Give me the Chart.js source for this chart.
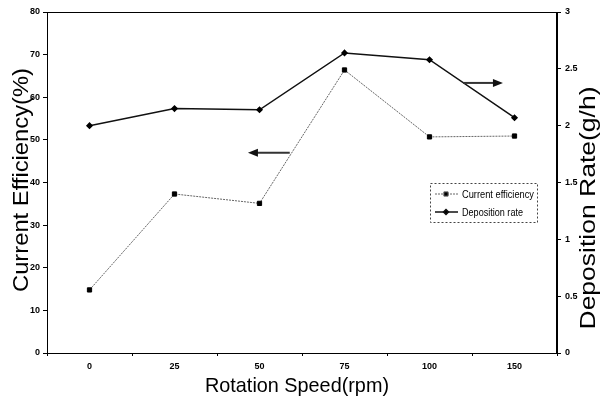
<!DOCTYPE html>
<html>
<head>
<meta charset="utf-8">
<script src="https://cdn.jsdelivr.net/npm/chart.js@4"></script>
<style>
  body { margin: 0; background: #fff; }
  canvas { display: block; }
</style>
</head>
<body>
<canvas id="myChart" width="601" height="401"></canvas>
<script>
const speeds = ['0', '25', '50', '75', '100', '150'];
const efficiency = [14.8, 37.3, 35.1, 66.4, 50.7, 50.9];
const depositionRate = [2.0, 2.15, 2.14, 2.64, 2.58, 2.07];
const efficiencyTicks = [0, 10, 20, 30, 40, 50, 60, 70, 80];
const rateTicks = [0, 0.5, 1, 1.5, 2, 2.5, 3];

const FONT = '"Liberation Sans", Arial, sans-serif';

// draw text scaled so it spans a given length
function fitText(ctx, text, x, y, size, len, rot, align) {
    ctx.save();
    ctx.translate(x, y);
    ctx.rotate(rot);
    ctx.font = size + 'px ' + FONT;
    const w = ctx.measureText(text).width;
    ctx.scale(len / w, 1);
    ctx.textAlign = align || 'center';
    ctx.textBaseline = 'middle';
    ctx.fillStyle = '#000';
    ctx.fillText(text, 0, 0);
    ctx.restore();
}

function arrow(ctx, x1, x2, y) {
    const dir = x2 > x1 ? 1 : -1;
    ctx.save();
    ctx.strokeStyle = '#333';
    ctx.fillStyle = '#111';
    ctx.lineWidth = 2;
    ctx.beginPath();
    ctx.moveTo(x1, y);
    ctx.lineTo(x2 - dir * 8, y);
    ctx.stroke();
    ctx.beginPath();
    ctx.moveTo(x2, y);
    ctx.lineTo(x2 - dir * 10, y - 4);
    ctx.lineTo(x2 - dir * 10, y + 4);
    ctx.closePath();
    ctx.fill();
    ctx.restore();
}

const extras = {
    id: 'extras',
    afterDraw(chart) {
        const ctx = chart.ctx;
        const a = chart.chartArea;
        // frame
        ctx.save();
        ctx.strokeStyle = '#000';
        ctx.lineWidth = 1;
        ctx.strokeRect(a.left + 0.5, a.top + 0.5, a.right - a.left - 1, a.bottom - a.top);
        ctx.restore();

        // axis titles
        fitText(ctx, 'Current Efficiency(%)', 22, 180, 22, 224, -Math.PI / 2);
        fitText(ctx, 'Deposition Rate(g/h)', 589, 208, 22, 243, -Math.PI / 2);
        fitText(ctx, 'Rotation Speed(rpm)', 297, 386, 21, 184, 0);

        // arrows pointing at the axes
        const w = a.right - a.left, h = a.bottom - a.top;
        arrow(ctx, a.left + 0.476 * w, a.left + 0.394 * w, a.top + 0.413 * h);
        arrow(ctx, a.left + 0.816 * w, a.left + 0.894 * w, a.top + 0.208 * h);

        // legend box
        const lx = 430, ly = 183, lw = 107, lh = 39;
        ctx.save();
        ctx.strokeStyle = '#444';
        ctx.lineWidth = 1;
        ctx.setLineDash([2, 2]);
        ctx.strokeRect(lx + 0.5, ly + 0.5, lw, lh);
        ctx.restore();

        const ds = chart.data.datasets;
        const textLen = [72, 61];
        ds.forEach((d, i) => {
            const yy = ly + 11 + i * 18;
            ctx.save();
            ctx.strokeStyle = d.borderColor;
            ctx.lineWidth = d.borderWidth;
            ctx.setLineDash(d.borderDash || []);
            ctx.beginPath();
            ctx.moveTo(lx + 5, yy);
            ctx.lineTo(lx + 28, yy);
            ctx.stroke();
            ctx.setLineDash([]);
            Chart.helpers.drawPoint(ctx, {
                pointStyle: d.pointStyle, radius: d.pointRadius, rotation: 0, borderWidth: 1
            }, lx + 16, yy);
            ctx.restore();
            fitText(ctx, d.label, lx + 32, yy + 1, 10, textLen[i], 0, 'left');
        });
    }
};

const data = {
    labels: speeds,
    datasets: [{
        label: 'Current efficiency',
        data: efficiency,
        yAxisID: 'y',
        borderColor: '#666',
        borderWidth: 1,
        borderDash: [2, 1],
        pointStyle: 'rect',
        pointRadius: 3,
        pointBackgroundColor: '#000',
        pointBorderColor: '#000',
        tension: 0
    }, {
        label: 'Deposition rate',
        data: depositionRate,
        yAxisID: 'y1',
        borderColor: '#111',
        borderWidth: 1.5,
        pointStyle: 'rectRot',
        pointRadius: 2.5,
        pointBackgroundColor: '#000',
        pointBorderColor: '#000',
        tension: 0
    }]
};

const tickFont = { family: FONT, size: 9, weight: 'bold' };

const config = {
    type: 'line',
    data: data,
    options: {
        responsive: false,
        animation: false,
        layout: { padding: { top: 12, left: 0, right: 0, bottom: 0 } },
        plugins: { legend: { display: false }, tooltip: { enabled: false } },
        scales: {
            x: {
                offset: true,
                grid: { display: true, drawOnChartArea: false, drawTicks: true, tickLength: 3, color: '#000', offset: true },
                border: { color: '#000', width: 1 },
                ticks: { color: '#000', font: tickFont, padding: 5 },
                afterFit(s) { s.height = 48; }
            },
            y: {
                position: 'left',
                min: 0, max: 80,
                afterBuildTicks(s) { s.ticks = efficiencyTicks.map(v => ({ value: v })); },
                grid: { display: true, drawOnChartArea: false, tickLength: 4, color: '#000' },
                border: { color: '#000', width: 1 },
                ticks: { color: '#000', font: tickFont, padding: 3 },
                afterFit(s) { s.width = 47; }
            },
            y1: {
                position: 'right',
                min: 0, max: 3,
                afterBuildTicks(s) { s.ticks = rateTicks.map(v => ({ value: v })); },
                grid: { display: true, drawOnChartArea: false, tickLength: 4, color: '#000' },
                border: { color: '#000', width: 1 },
                ticks: { color: '#000', font: tickFont, padding: 4, callback: v => String(v) },
                afterFit(s) { s.width = 44; }
            }
        }
    },
    plugins: [extras]
};

const myChart = new Chart(
    document.getElementById('myChart'),
    config
);
</script>
</body>
</html>
